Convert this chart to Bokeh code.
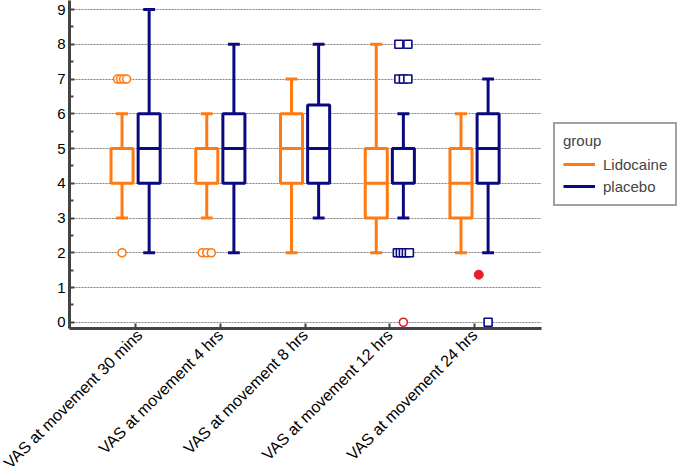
import math
import numpy as np
from bokeh.plotting import figure
from bokeh.models import Range1d, FixedTicker, Legend, LegendItem, ColumnDataSource
from bokeh.embed import file_html
from bokeh.resources import INLINE

# ---------------- data ----------------
categories = ["VAS at movement 30 mins", "VAS at movement 4 hrs", "VAS at movement 8 hrs",
              "VAS at movement 12 hrs", "VAS at movement 24 hrs"]
groups = ["Lidocaine", "placebo"]

lido_low = [3, 3, 2, 2, 2]
lido_q1 = [4, 4, 4, 3, 3]
lido_med = [5, 5, 5, 4, 4]
lido_q3 = [5, 5, 6, 5, 5]
lido_high = [6, 6, 7, 8, 6]

plac_low = [2, 2, 3, 3, 2]
plac_q1 = [4, 4, 4, 4, 4]
plac_med = [5, 5, 5, 5, 5]
plac_q3 = [6, 6, 6.25, 5, 6]
plac_high = [9, 8, 8, 6, 7]

# outside values: category index, value, number of coincident points
lido_out_cat = [0, 0, 1]
lido_out_val = [7, 2, 2]
lido_out_n = [4, 1, 3]
plac_out_cat = [3, 3, 3, 4]
plac_out_val = [8, 7, 2, 0]
plac_out_n = [2, 3, 5, 1]

# far-out value (red open circle) and red filled marker
far_cat = [3]
far_val = [0]
red_dot_cat = [4]
red_dot_val = [1.37]

# ---------------- styling ----------------
ORANGE = "#ff7a12"
NAVY = "#0a0a80"
RED = "#e3202a"
FONT = "Liberation Sans"

PX = 84.7          # pixels per category unit
OFF = 0.16         # group offset
BOXW = 0.26
CAPW = 0.07

p = figure(frame_width=472, frame_height=328,
           x_range=Range1d(0.22, 5.79), y_range=Range1d(-0.18, 9.26),
           output_backend="svg", toolbar_location=None,
           min_border_left=69, min_border_top=0, min_border_right=0, min_border_bottom=144)
p.outline_line_color = None
p.background_fill_color = "white"
p.border_fill_color = "white"

base = np.arange(1, len(categories) + 1)


def draw_group(offset, low, q1, med, q3, high, color):
    x = base + offset
    src = ColumnDataSource(dict(x=x, low=low, q1=q1, med=med, q3=q3, high=high,
                                xl=x - BOXW / 2, xr=x + BOXW / 2,
                                cl=x - CAPW, cr=x + CAPW))
    w = p.segment("x", "q3", "x", "high", source=src, line_color=color, line_width=3)
    p.segment("x", "low", "x", "q1", source=src, line_color=color, line_width=3)
    p.segment("cl", "high", "cr", "high", source=src, line_color=color, line_width=3)
    p.segment("cl", "low", "cr", "low", source=src, line_color=color, line_width=3)
    p.vbar("x", BOXW, "q3", "q1", source=src, fill_color="white", line_color=color,
           line_width=3)
    p.segment("xl", "med", "xr", "med", source=src, line_color=color, line_width=3)
    return w


def jitter(cats, vals, counts, offset):
    xs, ys = [], []
    for c, v, n in zip(cats, vals, counts):
        step = (max(3.0, 9.0 / (n - 1)) if n > 1 else 0) / PX
        for i in range(n):
            xs.append(base[c] + offset + (i - (n - 1) / 2) * step)
            ys.append(v)
    return xs, ys


w_l = draw_group(-OFF, lido_low, lido_q1, lido_med, lido_q3, lido_high, ORANGE)
w_p = draw_group(OFF, plac_low, plac_q1, plac_med, plac_q3, plac_high, NAVY)

lx, ly = jitter(lido_out_cat, lido_out_val, lido_out_n, -OFF)
p.scatter(lx, ly, marker="circle", size=8, fill_color="white", line_color=ORANGE, line_width=1.6)
px_, py_ = jitter(plac_out_cat, plac_out_val, plac_out_n, OFF)
p.scatter(px_, py_, marker="square", size=8, fill_color="white", line_color=NAVY, line_width=1.6)

fx = [base[c] + OFF for c in far_cat]
p.scatter(fx, far_val, marker="circle", size=8, fill_color="white", line_color=RED, line_width=1.6)
rx = [base[c] + 0.05 for c in red_dot_cat]
p.scatter(rx, red_dot_val, marker="circle", size=9, fill_color=RED, line_color=RED)

# ---------------- axes ----------------
p.xaxis.ticker = FixedTicker(ticks=list(base))
p.xaxis.major_label_overrides = {int(i): c for i, c in zip(base, categories)}
p.xaxis.major_label_orientation = math.pi / 4
p.xaxis.minor_tick_line_color = None

p.yaxis.ticker = FixedTicker(ticks=list(range(10)), minor_ticks=[i + 0.5 for i in range(9)])

for ax in (p.xaxis, p.yaxis):
    ax.axis_line_color = "#444444"
    ax.axis_line_width = 3
    ax.major_tick_line_color = "#444444"
    ax.major_tick_line_width = 2
    ax.major_tick_in = 5
    ax.major_tick_out = 0
    ax.major_label_text_font = FONT
    ax.major_label_text_color = "black"
    ax.major_label_standoff = 4

p.yaxis.minor_tick_line_color = "#444444"
p.yaxis.minor_tick_line_width = 2
p.yaxis.minor_tick_in = 4
p.yaxis.minor_tick_out = 0
p.yaxis.major_label_text_font_size = "15px"
p.xaxis.major_label_text_font_size = "16px"

p.xgrid.visible = False
p.ygrid.grid_line_color = "#808080"
p.ygrid.grid_line_dash = "2 1"
p.ygrid.grid_line_width = 1

legend = Legend(items=[LegendItem(label=groups[0], renderers=[w_l]),
                       LegendItem(label=groups[1], renderers=[w_p])],
                title="group", location="center_left", orientation="vertical")
legend.title_text_font = FONT
legend.title_text_font_size = "15px"
legend.title_text_font_style = "normal"
legend.label_text_font = FONT
legend.label_text_font_size = "15px"
legend.glyph_width = 32
legend.label_standoff = 8
legend.padding = 8
legend.spacing = 2
legend.margin = 12
legend.border_line_color = "#444444"
legend.border_line_width = 2
legend.background_fill_alpha = 1
p.add_layout(legend, "right")

open("out.html", "w").write(file_html(p, INLINE))
